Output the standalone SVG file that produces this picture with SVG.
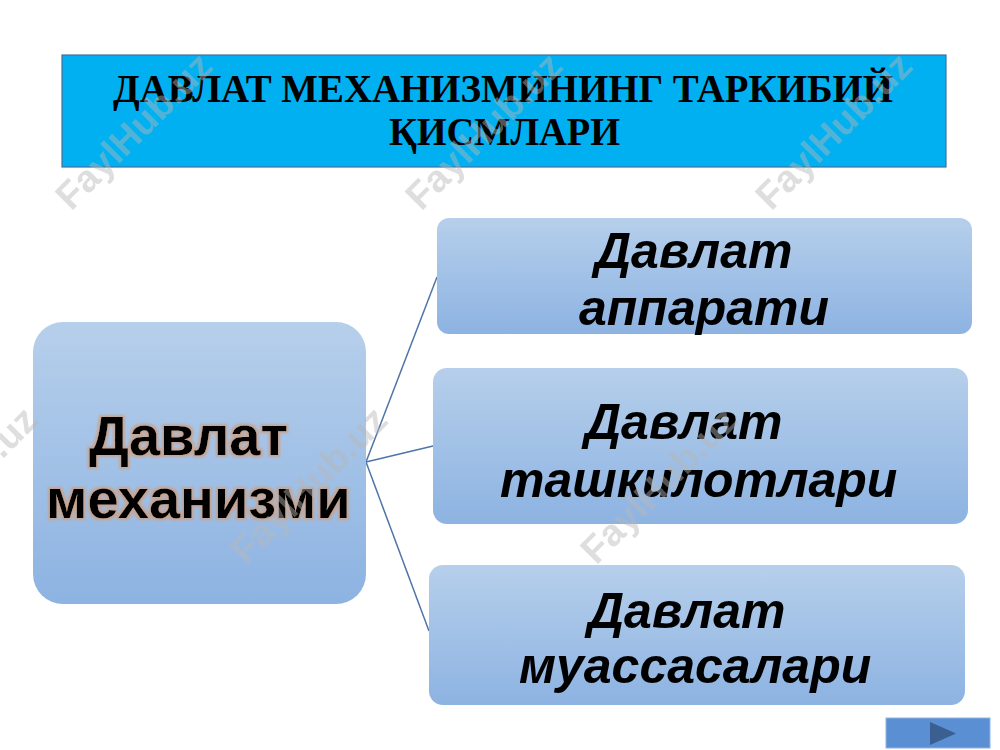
<svg xmlns="http://www.w3.org/2000/svg" width="1000" height="750" viewBox="0 0 1000 750">
  <defs>
    <linearGradient id="boxGrad" x1="0" y1="0" x2="0" y2="1">
      <stop offset="0" stop-color="#b6cfeb"/>
      <stop offset="1" stop-color="#8db3e2"/>
    </linearGradient>
    <filter id="glow" x="-10%" y="-20%" width="120%" height="140%">
      <feMorphology in="SourceAlpha" operator="dilate" radius="2" result="d"/>
      <feGaussianBlur in="d" stdDeviation="1.1" result="b"/>
      <feFlood flood-color="#c9a38c" flood-opacity="0.9"/>
      <feComposite in2="b" operator="in" result="g"/>
      <feMerge>
        <feMergeNode in="g"/>
        <feMergeNode in="SourceGraphic"/>
      </feMerge>
    </filter>
  </defs>
  <style>
    .title { font-family: "Liberation Serif", "Times New Roman", serif; font-weight: bold; font-size: 39px; fill: #000; }
    .box { fill: url(#boxGrad); }
    .main { font-family: "Liberation Sans", Arial, sans-serif; font-weight: bold; font-size: 56px; fill: #000; }
    .sub { font-family: "Liberation Sans", Arial, sans-serif; font-weight: bold; font-style: italic; font-size: 50px; fill: #000; }
    .wm { font-family: "Liberation Sans", Arial, sans-serif; font-weight: bold; font-size: 38px; fill: #b8b8b8; opacity: 0.45; }
    .conn { stroke: #4f74a8; stroke-width: 1.5; fill: none; }
  </style>
  <rect width="1000" height="750" fill="#ffffff"/>

  <g id="title">
    <rect x="62" y="55" width="884" height="112" fill="#00b0f0" stroke="#41719c" stroke-width="1.2"/>
    <text class="title" x="113" y="102" textLength="780" lengthAdjust="spacingAndGlyphs">ДАВЛАТ МЕХАНИЗМИНИНГ ТАРКИБИЙ</text>
    <text class="title" x="389" y="145" textLength="231" lengthAdjust="spacingAndGlyphs">ҚИСМЛАРИ</text>
  </g>

  <g id="connectors">
    <line class="conn" x1="366" y1="462" x2="437" y2="277"/>
    <line class="conn" x1="366" y1="462" x2="433" y2="446"/>
    <line class="conn" x1="366" y1="462" x2="429" y2="631"/>
  </g>

  <g id="node-mechanism">
    <rect class="box" x="33" y="322" width="333" height="282" rx="30"/>
    <g filter="url(#glow)">
      <text class="main" x="89" y="455">Давлат</text>
      <text class="main" x="46" y="518">механизми</text>
    </g>
  </g>

  <g id="node-apparatus">
    <rect class="box" x="437" y="218" width="535" height="116" rx="12"/>
    <text class="sub" x="595" y="268">Давлат</text>
    <text class="sub" x="579" y="325">аппарати</text>
  </g>

  <g id="node-organizations">
    <rect class="box" x="433" y="368" width="535" height="156" rx="14"/>
    <text class="sub" x="585" y="439">Давлат</text>
    <text class="sub" x="500" y="497">ташкилотлари</text>
  </g>

  <g id="node-institutions">
    <rect class="box" x="429" y="565" width="536" height="140" rx="14"/>
    <text class="sub" x="588" y="628">Давлат</text>
    <text class="sub" x="519" y="683">муассасалари</text>
  </g>

  <g id="nav-button">
    <rect x="886" y="718" width="104" height="30" fill="#5b8fd3" stroke="#8fb4e6" stroke-width="1"/>
    <polygon points="930,722 930,745 956,733.5" fill="#3a5f90"/>
  </g>

  <g id="watermarks">
    <text class="wm" transform="translate(143,140) rotate(-45)" text-anchor="middle">FaylHub.uz</text>
    <text class="wm" transform="translate(493,140) rotate(-45)" text-anchor="middle">FaylHub.uz</text>
    <text class="wm" transform="translate(843,140) rotate(-45)" text-anchor="middle">FaylHub.uz</text>
    <text class="wm" transform="translate(-32,494) rotate(-45)" text-anchor="middle">FaylHub.uz</text>
    <text class="wm" transform="translate(318,494) rotate(-45)" text-anchor="middle">FaylHub.uz</text>
    <text class="wm" transform="translate(668,494) rotate(-45)" text-anchor="middle">FaylHub.uz</text>
  </g>
</svg>
